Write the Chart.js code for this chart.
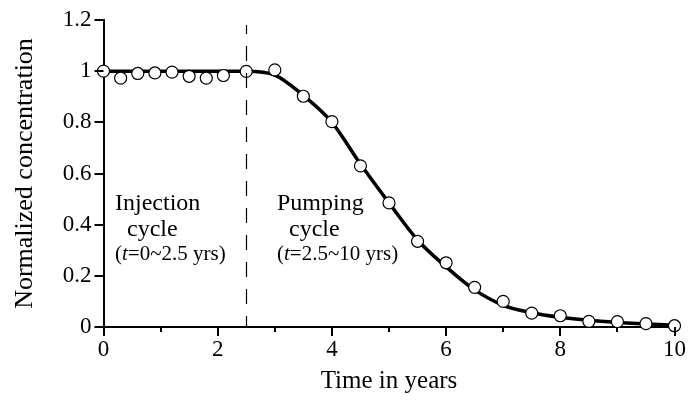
<!DOCTYPE html>
<html>
<head>
<meta charset="utf-8">
<script src="https://cdn.jsdelivr.net/npm/chart.js@4.4.0/dist/chart.umd.min.js"></script>
<style>
    html, body { margin: 0; padding: 0; background: #fff; }
    #wrap { width: 695px; height: 400px; }
</style>
</head>
<body>
<div id="wrap"><canvas id="chart" width="695" height="400"></canvas></div>
<script>
// measured samples (open circles)
const sampleTimes = [0, 0.3, 0.6, 0.9, 1.2, 1.5, 1.8, 2.1, 2.5, 3, 3.5, 4, 4.5, 5, 5.5, 6, 6.5, 7, 7.5, 8, 8.5, 9, 9.5, 10];
const sampleConc = [1.0, 0.973, 0.991, 0.993, 0.996, 0.98, 0.973, 0.983, 0.999, 1.005, 0.902, 0.803, 0.63, 0.485, 0.335, 0.251, 0.155, 0.10, 0.054, 0.044, 0.022, 0.021, 0.013, 0.005];

// fitted curve (thick line)
const curveTimes = [0, 0.5, 1, 1.5, 2, 2.5, 3, 3.5, 4, 4.5, 5, 5.5, 6, 6.5, 7, 7.5, 8, 8.5, 9, 9.5, 10];
const curveConc = [1, 1, 1, 1, 1, 1, 0.985, 0.905, 0.8, 0.637, 0.485, 0.34, 0.235, 0.145, 0.085, 0.056, 0.038, 0.026, 0.018, 0.012, 0.007];

const xTicks = [0, 2, 4, 6, 8, 10];
const xMinorTicks = [1, 3, 5, 7, 9];
const yTicks = [0, 0.2, 0.4, 0.6, 0.8, 1, 1.2];
const cycleSwitch = 2.5;
const dashTop = 1.18;

const serif = '"Liberation Serif", "Times New Roman", serif';

const extras = {
    id: 'extras',
    afterDatasetsDraw(chart) {
        const ctx = chart.ctx;
        const x = chart.scales.x;
        const y = chart.scales.y;
        const y0 = y.getPixelForValue(0);
        const x0 = x.getPixelForValue(0);
        ctx.save();
        ctx.strokeStyle = '#000';
        ctx.lineWidth = 2;
        ctx.beginPath();
        yTicks.forEach(v => {
            const py = Math.round(y.getPixelForValue(v));
            ctx.moveTo(x0 - 9, py);
            ctx.lineTo(x0, py);
        });
        xTicks.forEach(v => {
            const px = Math.round(x.getPixelForValue(v));
            ctx.moveTo(px, y0);
            ctx.lineTo(px, y0 + 9);
        });
        xMinorTicks.forEach(v => {
            const px = Math.round(x.getPixelForValue(v));
            ctx.moveTo(px, y0);
            ctx.lineTo(px, y0 + 5);
        });
        ctx.stroke();

        // dashed divider between the two cycles
        const dx = Math.round(x.getPixelForValue(cycleSwitch)) + 0.5;
        ctx.lineWidth = 1.2;
        ctx.setLineDash([15, 12]);
        ctx.lineDashOffset = 4;
        ctx.beginPath();
        ctx.moveTo(dx, y0);
        ctx.lineTo(dx, y.getPixelForValue(dashTop));
        ctx.stroke();
        ctx.setLineDash([]);

        // annotations
        ctx.fillStyle = '#000';
        ctx.textAlign = 'left';
        ctx.textBaseline = 'alphabetic';
        const block = (left, title, range) => {
            ctx.font = '24px ' + serif;
            ctx.fillText(title, left, 210);
            ctx.fillText('cycle', left + 12, 236);
            ctx.font = '21px ' + serif;
            let cx = left;
            ctx.fillText('(', cx, 260);
            cx += ctx.measureText('(').width;
            ctx.font = 'italic 21px ' + serif;
            ctx.fillText('t', cx, 260);
            cx += ctx.measureText('t').width;
            ctx.font = '21px ' + serif;
            ctx.fillText(range, cx, 260);
        };
        block(115, 'Injection', '=0~2.5 yrs)');
        block(277, 'Pumping', '=2.5~10 yrs)');
        ctx.restore();
    }
};

new Chart(document.getElementById('chart'), {
    type: 'line',
    data: {
        datasets: [
            {
                label: 'Samples',
                data: sampleTimes.map((t, i) => ({ x: t, y: sampleConc[i] })),
                showLine: false,
                pointRadius: 6,
                pointBorderWidth: 1.2,
                pointBackgroundColor: '#fff',
                pointBorderColor: '#000',
                clip: false,
                order: 0
            },
            {
                label: 'Fit',
                data: curveTimes.map((t, i) => ({ x: t, y: curveConc[i] })),
                borderColor: '#000',
                borderWidth: 3.5,
                pointRadius: 0,
                cubicInterpolationMode: 'monotone',
                fill: false,
                clip: false,
                order: 1
            }
        ]
    },
    options: {
        responsive: false,
        animation: false,
        events: [],
        layout: { padding: { left: 0, right: 14.5, top: 20, bottom: 0 } },
        plugins: {
            legend: { display: false },
            tooltip: { enabled: false }
        },
        scales: {
            x: {
                type: 'linear',
                min: 0,
                max: 10,
                afterBuildTicks: s => { s.ticks = xTicks.map(v => ({ value: v })); },
                afterFit: s => { s.height = 73; },
                grid: { display: true, drawOnChartArea: false, drawTicks: false },
                border: { display: true, color: '#000', width: 2 },
                ticks: {
                    color: '#000',
                    padding: 9,
                    maxRotation: 0,
                    font: { family: serif, size: 23 },
                    callback: v => String(v)
                },
                title: {
                    display: true,
                    text: 'Time in years',
                    color: '#000',
                    font: { family: serif, size: 25 },
                    padding: { top: 0, bottom: 4 }
                }
            },
            y: {
                min: 0,
                max: 1.2,
                afterBuildTicks: s => { s.ticks = yTicks.map(v => ({ value: v })); },
                afterFit: s => { s.width = 103.5; },
                grid: { display: true, drawOnChartArea: false, drawTicks: true, tickLength: 12, tickColor: 'transparent' },
                border: { display: true, color: '#000', width: 2 },
                ticks: {
                    color: '#000',
                    padding: 0,
                    font: { family: serif, size: 23 },
                    callback: v => String(Math.round(v * 10) / 10)
                },
                title: {
                    display: true,
                    text: 'Normalized concentration',
                    color: '#000',
                    font: { family: serif, size: 26 },
                    padding: { top: 10, bottom: 0 }
                }
            }
        }
    },
    plugins: [extras]
});
</script>
</body>
</html>
